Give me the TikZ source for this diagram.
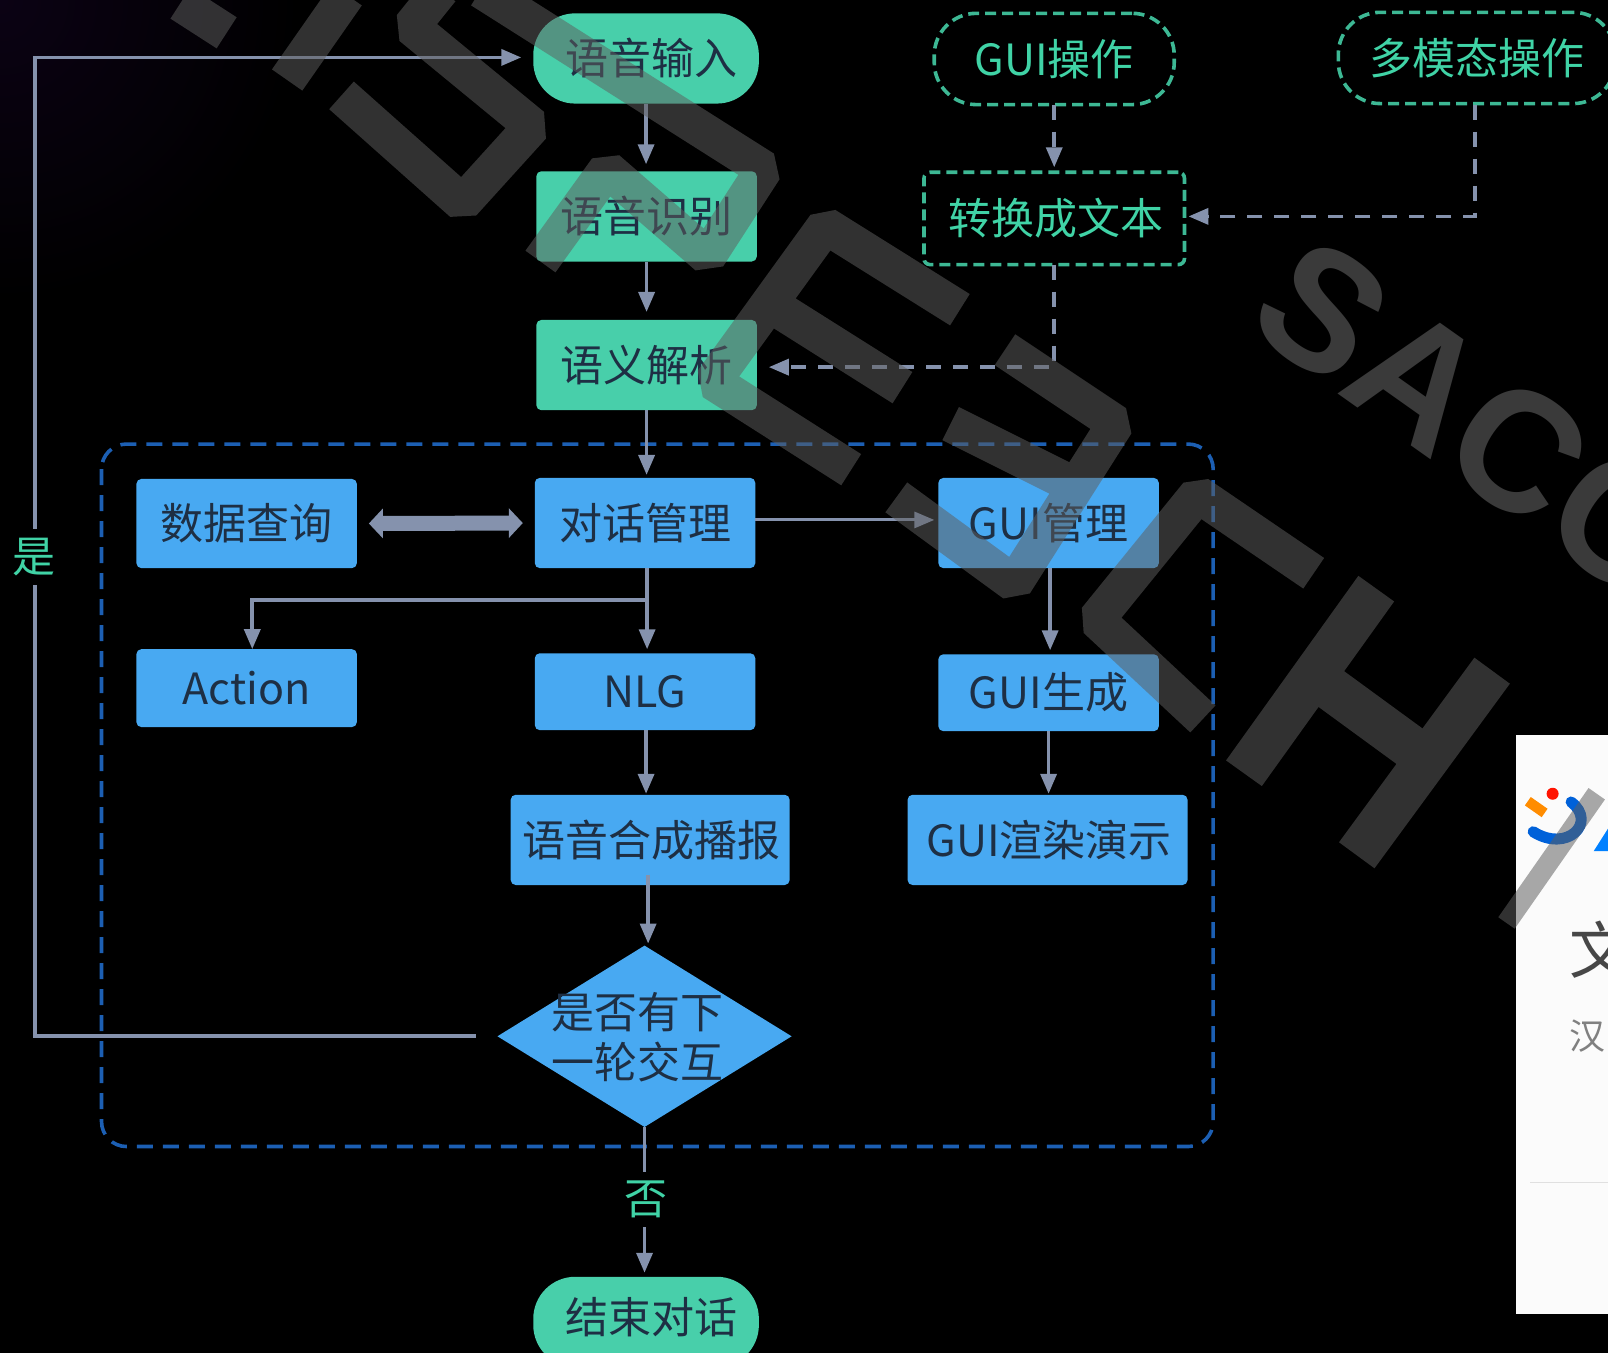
\documentclass[tikz,border=0pt]{standalone}
\usepackage{fontspec}
\setmainfont{Noto Sans CJK SC}
\newfontfamily\wmfont{Liberation Sans}
\usetikzlibrary{arrows.meta,shapes.geometric,calc}
\newcommand{\pxu}{1.0255pt}
\newcommand{\dropt}[1]{\raisebox{-1.8pt}{#1}}
\definecolor{bluebox}{HTML}{48A9F2}
\definecolor{greenbox}{HTML}{48CFAA}
\definecolor{tealtext}{HTML}{40D3A6}
\definecolor{tealdash}{HTML}{3DB894}
\definecolor{conncol}{HTML}{8592AD}
\definecolor{frameblue}{HTML}{1C5FB3}
\definecolor{inktext}{HTML}{1E2F44}
\definecolor{wmgrey}{HTML}{5E5E5E}
\definecolor{corner}{HTML}{0B0214}
\tikzset{
  x=1.0255pt,y=-1.0255pt,
  label text/.style={font=\fontsize{43}{50}\selectfont,inner sep=0pt,outer sep=0pt},
  boxb/.style={label text,fill=bluebox,text=inktext,rounded corners=5pt},
  boxg/.style={boxb,fill=greenbox},
  pill/.style={boxg,rounded corners=42pt},
  dashbox/.style={label text,draw=tealdash,line width=3.6pt,dash pattern=on 11pt off 6pt,text=tealtext,rounded corners=6pt},
  dashpill/.style={dashbox,rounded corners=42pt},
  conn/.style={draw=conncol,line width=3.6pt,-{Triangle[length=20pt,width=16pt]},shorten >=4pt},
  thinconn/.style={conn,line width=3pt},
  dconn/.style={conn,dash pattern=on 15pt off 12pt},
  bigarrow/.style={draw=conncol,line width=15pt,{Triangle[length=14pt,width=29pt]}-{Triangle[length=14pt,width=29pt]},shorten >=12pt,shorten <=12pt},
  frame/.style={draw=frameblue,line width=3.6pt,dash pattern=on 16pt off 10pt,rounded corners=25pt},
  answer/.style={label text,text=tealtext,fill=black,inner ysep=9pt},
  wm/.style={draw=wmgrey,draw opacity=.52,line width=37pt,line join=bevel},
}
\begin{document}
\begin{tikzpicture}
\clip (0,0) rectangle (1568,1319);
\fill[black] (0,0) rectangle (1568,1319);
\shade[inner color=corner,outer color=black] (0,0) circle[radius=300pt];
% screenshot panel at the right
\fill[white!98.5!black] (1478,717) rectangle (1568,1281);
\draw[black!12,line width=1.2pt] (1492,1153) -- (1568,1153);
\fill[red!85!orange] (1514,774) circle[radius=6pt];
\fill[orange!90!yellow,rotate around={-35:(1498,787)}] (1488,782) rectangle (1508,792);
\draw[blue!55!cyan!85!black,line width=11pt,line cap=round] (1532,782) .. controls (1558,802) and (1528,832) .. (1495,811);
\fill[blue!50!cyan] (1554,830) -- (1568,808) -- (1568,830) -- cycle;
\node[inner sep=0pt,font=\fontsize{62}{62}\selectfont,text=black!72] (wen) at (1561,926) {文};
\node[inner sep=0pt,font=\fontsize{36}{36}\selectfont,text=black!50] (han) at (1548,1010) {汉};
% frame
\draw[frame] (99,433) rectangle (1183,1118);
% nodes
\node[pill,minimum width=220*\pxu,minimum height=88*\pxu] (in) at (630,57) {\hspace*{10pt}\raisebox{1pt}{语音输入}};
\node[boxg,minimum width=215*\pxu,minimum height=88*\pxu] (asr) at (630.5,211) {\dropt{语音识别}};
\node[boxg,minimum width=215*\pxu,minimum height=88*\pxu] (nlu) at (630.5,356) {\dropt{语义解析}};
\node[dashpill,minimum width=234*\pxu,minimum height=89*\pxu] (guiop) at (1028,57.5) {\raisebox{1.5pt}{GUI操作}};
\node[dashpill,minimum width=270*\pxu,minimum height=89*\pxu] (multi) at (1440,56.5) {\raisebox{1pt}{多模态操作}};
\node[dashbox,minimum width=254*\pxu,minimum height=90*\pxu] (conv) at (1028,213) {\hspace*{4pt}\dropt{转换成文本}};
\node[boxb,minimum width=215*\pxu,minimum height=87*\pxu] (data) at (240.5,510.5) {\dropt{数据查询}};
\node[boxb,minimum width=215*\pxu,minimum height=88*\pxu] (dlg) at (629,510) {\dropt{对话管理}};
\node[boxb,minimum width=215*\pxu,minimum height=88*\pxu] (guimgr) at (1022.5,510) {GUI管理};
\node[boxb,minimum width=215*\pxu,minimum height=76*\pxu] (act) at (240.5,671) {Action};
\node[boxb,minimum width=215*\pxu,minimum height=75*\pxu] (nlg) at (629,674.5) {NLG};
\node[boxb,minimum width=215*\pxu,minimum height=75*\pxu] (guigen) at (1022.5,675.5) {GUI生成};
\node[boxb,minimum width=272*\pxu,minimum height=88*\pxu] (syn) at (634,819) {\hspace*{2pt}语音合成播报};
\node[boxb,minimum width=273*\pxu,minimum height=88*\pxu] (render) at (1021.5,819) {\hspace*{3pt}GUI渲染演示};
\node[diamond,fill=bluebox,inner sep=0pt,aspect=1.62,minimum width=287*\pxu,minimum height=177*\pxu] (dec) at (628.5,1010.5) {};
\node[label text,text=inktext,align=left,font=\fontsize{43}{50}\selectfont] (dectext) at (622,1011) {是否有下\\一轮交互};
\node[pill,minimum width=220*\pxu,minimum height=88*\pxu] (end) at (630,1289) {\hspace*{10pt}\raisebox{12pt}{结束对话}};
\coordinate (loopstart) at (464,1010);
\coordinate (actin) at (246,633);
\coordinate (decin) at (632,922);
\coordinate (synout) at (632,853);
% connectors
\draw[conn,shorten >=12pt] (loopstart) -- (34,1010) -- (34,56) -- (in.west |- 0,56);
\draw[conn,shorten >=7pt] (in.south) -- (in.south |- asr.north);
\draw[conn,shorten >=8pt] (asr.south) -- (asr.south |- nlu.north);
\draw[conn,shorten >=3pt] (nlu.south) -- (nlu.south |- dlg.north);
\draw[dconn,shorten >=5pt] (guiop.south) -- (guiop.south |- conv.north);
\draw[dconn] (1438,102) -- (1438,211) -- (conv.east |- 0,211);
\draw[dconn,shorten >=12pt] (conv.south) -- (1028,358) -- (nlu.east |- 0,358);
\draw[bigarrow] (data.east) -- (dlg.west);
\draw[thinconn] ($(dlg.east)+(0,-3)$) -- ($(guimgr.west)+(0,-3)$);
\draw[conn] ($(dlg.south)+(2,0)$) -- ($(dlg.south |- nlg.north)+(2,0)$);
\draw[conn,shorten >=0pt] ($(dlg.south |- 0,585)+(2,0)$) -- (246,585) -- (actin);
\draw[conn] ($(guimgr.south)+(1.5,0)$) -- ($(guigen.north)+(1.5,0)$);
\draw[conn,shorten >=1pt] (guigen.south) -- (guigen.south |- render.north);
\draw[conn,shorten >=1pt] ($(nlg.south)+(1,0)$) -- ($(nlg.south |- syn.north)+(1,0)$);
\draw[conn,shorten >=2pt] (synout) -- (decin);
\draw[conn] (dec.south) -- (dec.south |- end.north);
\node[answer] (yes) at (33,543) {是};
\node[answer] (no) at (630,1170) {否};
% watermark
\draw[wm,line width=44pt]
  (1342,574) -- (1213,754)
  (1455,654) -- (1323,834)
  (1286,663) -- (1390,739);
\draw[wm]
  (1281,559) -- (1168,482) -- (1069,604) -- (1173,701)
  (980,341) -- (1088,413) -- (989,569) -- (874,485)
  (927,413) -- (1037,468)
  (936,302) -- (805,220) -- (695,372) -- (830,458)
  (750,296) -- (880,378)
  (469,-10) -- (745,165) -- (690,250) -- (592,165) -- (527,255)
  (333,93) -- (451,198) -- (519,123) -- (401,26) -- (430,-10)
  (280,78) -- (338,-5)
  (176,3) -- (221,32);
\node[font=\wmfont\bfseries\fontsize{170}{170}\selectfont,text=wmgrey,text opacity=.62,rotate=-35.3,inner sep=0pt] (wmtext) at (1436,407) {SACC};
\draw[wmgrey,opacity=.53,line width=20pt] (1557,774) -- (1469,900);
\end{tikzpicture}
\end{document}
